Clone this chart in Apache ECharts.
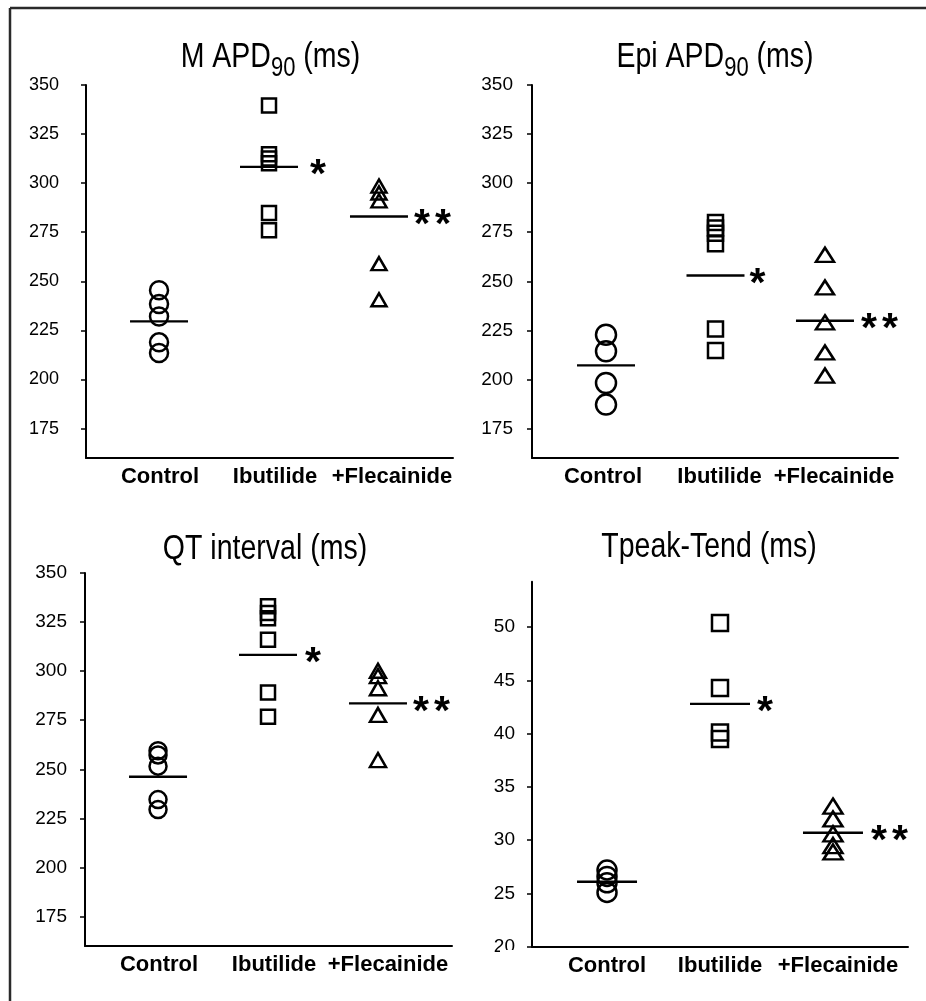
<!DOCTYPE html>
<html><head><meta charset="utf-8">
<script src="https://cdn.jsdelivr.net/npm/echarts@6/dist/echarts.min.js"></script>
<style>html,body{margin:0;padding:0;background:#fff}#c{width:926px;height:1001px}</style>
</head><body><div id="c"></div>
<script>
// ---------- data ----------
const categories = ['Control', 'Ibutilide', '+Flecainide'];
const groupSymbols = ['circle', 'rect', 'triangle'];
const stars = ['', '*', '**'];

const mapdControl    = [245.4, 238.4, 232.1, 218.9, 213.5];
const mapdIbutilide  = [339.5, 314.7, 312.5, 310.2, 284.8, 276.0];
const mapdFlecainide = [298.5, 295.0, 291.0, 259.0, 240.6];
const mapdMeans      = [229.6, 308.3, 283.0];

const epiControl     = [222.8, 214.4, 198.2, 187.2];
const epiIbutilide   = [280.0, 277.2, 274.5, 269.1, 225.7, 214.8];
const epiFlecainide  = [263.5, 246.9, 229.1, 213.8, 202.0];
const epiMeans       = [207.2, 253.0, 229.9];

const qtControl      = [259.5, 257.3, 251.6, 234.6, 229.5];
const qtIbutilide    = [333.0, 329.6, 327.0, 316.0, 289.1, 276.8];
const qtFlecainide   = [300.2, 297.5, 291.3, 277.7, 254.7];
const qtMeans        = [246.2, 308.3, 283.6];

const tpteControl    = [27.2, 26.6, 26.0, 25.1];
const tpteIbutilide  = [50.4, 44.3, 40.1, 39.5];
const tpteFlecainide = [33.2, 32.0, 30.6, 29.5, 28.9];
const tpteMeans      = [26.1, 42.8, 30.7];

const apdTicks  = [175, 200, 225, 250, 275, 300, 325, 350];
const tpteTicks = [20, 25, 30, 35, 40, 45, 50];

// ---------- layout ----------
const FONT = "'Liberation Sans', Arial, Helvetica, sans-serif";
const panels = [
  { title: ['M APD', '90', ' (ms)'], groups: [mapdControl, mapdIbutilide, mapdFlecainide], means: mapdMeans,
    yMin: 160, yMax: 350, ticks: apdTicks,
    grid: { left: 86, top: 85, width: 367, height: 373 }, xMin: -0.664, xMax: 2.673, spacing: 110,
    labelShift: [1, 6, 13], tickFont: 18, tickMargin: 27,
    sizes: [18, 14, [15, 13]], meanW: 58, starDist: [0, 12, 6],
    titleX: 270.5, titleY: 57 },
  { title: ['Epi APD', '90', ' (ms)'], groups: [epiControl, epiIbutilide, epiFlecainide], means: epiMeans,
    yMin: 160, yMax: 350, ticks: apdTicks,
    grid: { left: 532, top: 85, width: 366, height: 373 }, xMin: -0.676, xMax: 2.667, spacing: 109.5,
    labelShift: [-3, 4, 9], tickFont: 19, tickMargin: 19,
    sizes: [20, 15, [18, 14]], meanW: 58, starDist: [0, 5, 7],
    titleX: 715, titleY: 57 },
  { title: ['QT interval (ms)'], groups: [qtControl, qtIbutilide, qtFlecainide], means: qtMeans,
    yMin: 160, yMax: 350, ticks: apdTicks,
    grid: { left: 85, top: 573, width: 367, height: 373 }, xMin: -0.664, xMax: 2.673, spacing: 110,
    labelShift: [1, 6, 10], tickFont: 19, tickMargin: 18,
    sizes: [17, 14, [16, 14]], meanW: 58, starDist: [0, 8, 6],
    titleX: 265, titleY: 549 },
  { title: ['Tpeak-Tend (ms)'], groups: [tpteControl, tpteIbutilide, tpteFlecainide], means: tpteMeans,
    yMin: 20, yMax: 54.27, ticks: tpteTicks,
    grid: { left: 532, top: 581.7, width: 376, height: 365 }, xMin: -0.664, xMax: 2.664, spacing: 113,
    labelShift: [0, 0, 5], tickFont: 19, tickMargin: 17,
    sizes: [19, 16, [19, 15]], meanW: 60, starDist: [0, 7, 8],
    titleX: 709, titleY: 547 }
];

const grids = [], xAxes = [], yAxes = [], series = [], graphics = [];

const starRich = {
  st: { fontFamily: FONT, fontWeight: 'bold', fontSize: 41, color: '#000' },
  st2: { fontFamily: FONT, fontWeight: 'bold', fontSize: 41, color: '#000', padding: [0, 0, 0, 5] }
};
const starText = s => s.split('').map((c, j) => '{' + (j === 0 ? 'st' : 'st2') + '|' + c + '}').join('');

panels.forEach((p, k) => {
  grids.push(Object.assign({ containLabel: false }, p.grid));
  xAxes.push({
    type: 'value', gridIndex: k, min: p.xMin, max: p.xMax,
    axisLine: { show: true, onZero: false, lineStyle: { color: '#000', width: 2 } },
    axisTick: { show: false }, splitLine: { show: false },
    axisLabel: {
      customValues: categories.map((c, i) => i + p.labelShift[i] / p.spacing),
      formatter: v => categories[Math.round(v)],
      color: '#000', fontFamily: FONT, fontWeight: 'bold', fontSize: 22, margin: 8
    }
  });
  yAxes.push({
    type: 'value', gridIndex: k, min: p.yMin, max: p.yMax,
    axisLine: { show: true, onZero: false, lineStyle: { color: '#000', width: 2 } },
    axisTick: { show: true, inside: false, length: 5, customValues: p.ticks, lineStyle: { color: '#000', width: 1.5 } },
    splitLine: { show: false },
    axisLabel: { customValues: p.ticks, color: '#000', fontFamily: FONT, fontSize: p.tickFont, margin: p.tickMargin }
  });
  p.groups.forEach((vals, i) => {
    series.push({
      type: 'scatter', xAxisIndex: k, yAxisIndex: k,
      symbol: groupSymbols[i], symbolSize: p.sizes[i],
      itemStyle: { color: 'rgba(0,0,0,0)', borderColor: '#000', borderWidth: 2.5, opacity: 1 },
      data: vals.map(v => [i, v]), silent: true, z: 3
    });
  });
  series.push({
    type: 'scatter', xAxisIndex: k, yAxisIndex: k,
    symbol: 'rect', symbolSize: [p.meanW, 2.4],
    itemStyle: { color: '#000', opacity: 1 }, silent: true, z: 4,
    data: p.means.map((m, i) => ({
      value: [i, m],
      label: {
        show: i > 0, position: 'right', distance: p.starDist[i],
        formatter: starText(stars[i]), rich: starRich,
        fontFamily: FONT, fontWeight: 'bold', fontSize: 41, color: '#000',
        offset: [0, 9]
      }
    }))
  });
  const rich = {
    a: { fontFamily: FONT, fontSize: 28.5, fill: '#000', color: '#000' },
    s: { fontFamily: FONT, fontSize: 22, fill: '#000', color: '#000', padding: [18, 0, 0, 0] }
  };
  const txt = p.title.length === 3
    ? '{a|' + p.title[0] + '}{s|' + p.title[1] + '}{a|' + p.title[2] + '}'
    : '{a|' + p.title[0] + '}';
  graphics.push({
    type: 'text', x: p.titleX, y: p.titleY, scaleY: 1.25, z: 100, silent: true,
    style: { text: txt, rich: rich, align: 'center', verticalAlign: 'middle',
             textAlign: 'center', textVerticalAlign: 'middle', fill: '#000' }
  });
});

// frame (top + left border) and partial cover of the bottom "20" label
graphics.push({ type: 'line', z: 100, silent: true, shape: { x1: 10, y1: 8, x2: 926, y2: 8 }, style: { stroke: '#2a2a2a', lineWidth: 2.5 } });
graphics.push({ type: 'line', z: 100, silent: true, shape: { x1: 10, y1: 8, x2: 10, y2: 1001 }, style: { stroke: '#2a2a2a', lineWidth: 2.5 } });
graphics.push({ type: 'rect', z: 100, silent: true, shape: { x: 500, y: 950, width: 29, height: 14 }, style: { fill: '#fff' } });

const chart = echarts.init(document.getElementById('c'), null, { renderer: 'canvas' });
chart.setOption({
  backgroundColor: '#fff',
  animation: false,
  grid: grids, xAxis: xAxes, yAxis: yAxes, series: series,
  graphic: graphics
});
</script></body></html>
